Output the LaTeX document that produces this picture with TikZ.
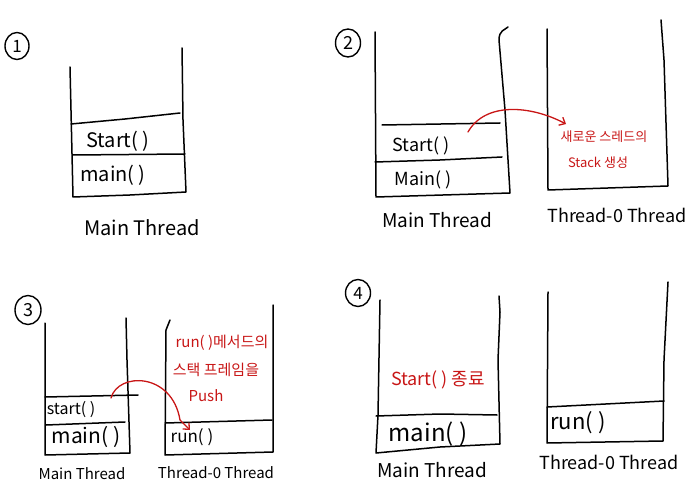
\documentclass[tikz,border=0pt]{standalone}
\usepackage{fontspec}
\setmainfont{Noto Sans CJK KR}
\usetikzlibrary{arrows.meta}
\definecolor{penred}{RGB}{200,22,22}
\newcommand{\fsz}[1]{\fontsize{#1}{#1}\selectfont}
\tikzset{
  pen/.style={line width=1.5pt, line join=round, line cap=round, black},
  redpen/.style={line width=1.3pt, line cap=round, penred, -{Straight Barb[length=5pt,width=9pt,line width=1.3pt]}},
  lbl/.style={inner sep=0pt, anchor=center, text=black},
  redlbl/.style={inner sep=0pt, anchor=center, text=penred},
  numc/.style={draw, ellipse, line width=1.4pt, inner sep=0pt, minimum width=24pt, minimum height=27pt},
}
\usetikzlibrary{shapes.geometric}
\begin{document}
\begin{tikzpicture}[x=1pt,y=-1pt]
\useasboundingbox (0,0) rectangle (700,502);
% ---------- Panel 1 ----------
\node[numc] (n1) at (17,46) {\fsz{17}1};
\draw[pen] (70,67) -- (73,197) -- (130,195) -- (186,192) -- (183,120) -- (182,48);
\draw[pen] (71,124) -- (125,119) -- (180,113);
\draw[pen] (73,155) -- (185,154);
\node[lbl] (p1start) at (118,141) {\fsz{20}Start( )};
\node[lbl] (p1main) at (113,175) {\fsz{20}main( )};
\node[lbl] (p1label) at (142,228) {\fsz{20}Main Thread};
% ---------- Panel 2 ----------
\node[numc,minimum width=25pt,minimum height=28pt] (n2) at (348,43) {\fsz{18}2};
\draw[pen] (375,32) -- (376,197) -- (510,193) -- (505,110) -- (499,40) .. controls (499,30) and (505,30) .. (508,27);
\draw[pen] (382,125) -- (500,123);
\draw[pen] (375,162) -- (440,160) -- (502,157);
\node[lbl] (p2start) at (421,146) {\fsz{18}Start( )};
\node[lbl] (p2main) at (423,180) {\fsz{18}Main( )};
\node[lbl] (p2label) at (437,220) {\fsz{19}Main Thread};
\draw[pen] (547,29) -- (548,190) -- (668,186) -- (664,60) -- (661,20);
\node[lbl] (p2tlabel) at (617,215) {\fsz{18}Thread-0 Thread};
\node[redlbl] (p2red1) at (604,137) {\fsz{13}새로운 스레드의};
\node[redlbl] (p2red2) at (598,163) {\fsz{13}Stack 생성};
\coordinate (p2a) at (468,132);
\coordinate (p2b) at (566,124);
\draw[redpen] (p2a) .. controls (485,102) and (530,105) .. (p2b);
% ---------- Panel 3 ----------
\node[numc,minimum width=26pt,minimum height=29pt] (n3) at (28,310) {\fsz{18}3};
\draw[pen] (45,323) -- (45,455) -- (130,453) -- (127,360) -- (126,318);
\draw[pen] (45,397) -- (138,395);
\draw[pen] (46,425) -- (125,422);
\node[lbl] (p3start) at (71,410) {\fsz{16}start( )};
\node[lbl] (p3main) at (86,437) {\fsz{21}main( )};
\node[lbl] (p3label) at (82,474) {\fsz{15}Main Thread};
\draw[pen] (170,320) -- (166,330) -- (165,455) -- (273,452) -- (273,305);
\draw[pen] (165,423) -- (272,420);
\node[lbl] (p3run) at (192,437) {\fsz{17}run( )};
\node[lbl] (p3tlabel) at (216,473) {\fsz{15}Thread-0 Thread};
\node[redlbl] (p3red1) at (222,343) {\fsz{15}run( )메서드의};
\node[redlbl] (p3red2) at (216,370) {\fsz{15}스택 프레임을};
\node[redlbl] (p3red3) at (206,396) {\fsz{15}Push};
\coordinate (p3a) at (111,398);
\coordinate (p3b) at (190,430);
\draw[redpen] (p3a) .. controls (118,372) and (172,372) .. (180,420) -- (p3b);
% ---------- Panel 4 ----------
\node[numc,minimum width=25pt,minimum height=27pt] (n4) at (358,293) {\fsz{17}4};
\draw[pen] (380,300) -- (378,415) -- (376,453) -- (440,447) -- (500,444) -- (498,360) -- (500,312) -- (499,296);
\draw[pen] (376,416) -- (440,414) -- (497,415);
\node[lbl] (p4main) at (428,434) {\fsz{24}main( )};
\node[redlbl] (p4red) at (438,380) {\fsz{18}Start( ) 종료};
\node[lbl] (p4label) at (432,470) {\fsz{19}Main Thread};
\draw[pen] (548,292) -- (547,443) -- (663,441) -- (664,360) -- (668,282);
\draw[pen] (547,407) -- (664,401);
\node[lbl] (p4run) at (578,423) {\fsz{22}run( )};
\node[lbl] (p4tlabel) at (609,462) {\fsz{18}Thread-0 Thread};
\end{tikzpicture}
\end{document}
